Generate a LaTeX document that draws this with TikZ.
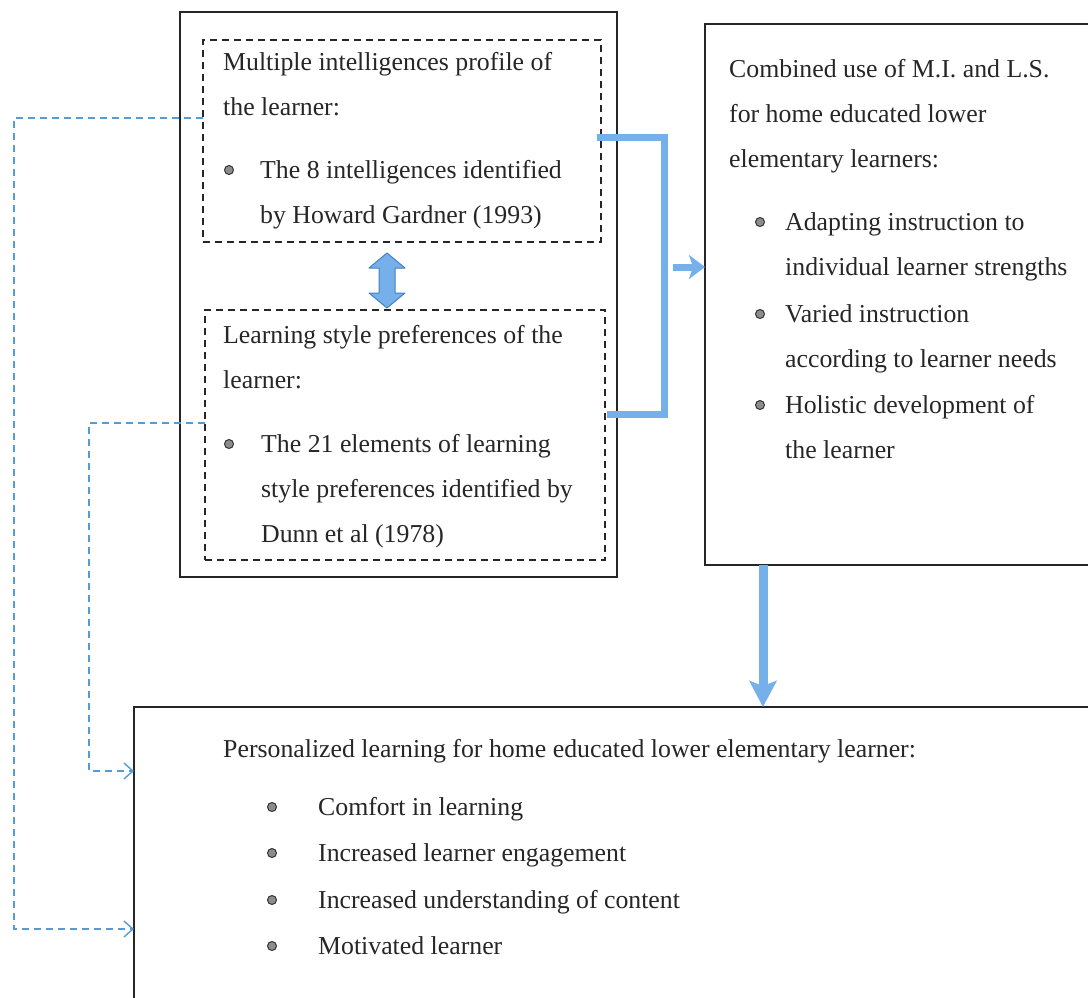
\documentclass[tikz,border=0pt]{standalone}
\usepackage{fontspec}
\setmainfont{Liberation Serif}
\usetikzlibrary{arrows.meta, positioning, calc}

\definecolor{flowblue}{RGB}{118,176,234}
\definecolor{linkblue}{RGB}{84,156,214}
\definecolor{edgeblue}{RGB}{68,128,196}

\begin{document}
\begin{tikzpicture}[x=1pt, y=-1pt,
        font=\fontsize{25.8}{45}\selectfont,
        every node/.style={align=left},
        frame/.style={
            rectangle, draw=black!85, line width=1.8pt,
            inner sep=0pt, outer sep=0pt, anchor=north west
        },
        dashframe/.style={
            frame, dash pattern=on 7pt off 5pt
        },
        % multi-line text: placed at the baseline of its last line
        txt/.style={anchor=base west, inner sep=0pt, text=black!85},
        bltdot/.style={fill=black!45, draw=black!80, line width=1pt},
        bracket/.style={draw=flowblue, line width=7pt},
        fatarrow/.style={draw=flowblue, line width=7pt,
            -{Stealth[length=16pt, width=24pt, inset=4pt]}},
        downarrow/.style={draw=flowblue, line width=9pt,
            -{Stealth[length=26pt, width=27pt, inset=5pt]}},
        dblarrow/.style={fill=flowblue, draw=edgeblue, line width=1pt, line join=round},
        linkdash/.style={draw=linkblue, line width=1.4pt, dash pattern=on 7pt off 5pt,
            -{Straight Barb[length=9pt, width=16pt, line width=1.4pt]}}
    ]
    \useasboundingbox (0,0) rectangle (1088,997);
    \clip (0,0) rectangle (1088,997);

    % boxes
    \node[frame, minimum width=437pt, minimum height=565pt] (inputs) at (180,12) {};
    \node[dashframe, minimum width=398pt, minimum height=202pt] (mi) at (203,40) {};
    \node[dashframe, minimum width=400pt, minimum height=250pt] (ls) at (205,310) {};
    \node[frame, minimum width=400pt, minimum height=541pt] (comb) at (705,24) {};
    \node[frame, minimum width=970pt, minimum height=300pt] (pers) at (134,707) {};

    % texts
    \node[txt] (mihead) at (223,115) {Multiple intelligences profile of\\the learner:};
    \node[txt] (miitem) at (260,223) {The 8 intelligences identified\\by Howard Gardner (1993)};
    \node[txt] (lshead) at (223,388) {Learning style preferences of the\\learner:};
    \node[txt] (lsitem) at (261,542) {The 21 elements of learning\\style preferences identified by\\Dunn et al (1978)};
    \node[txt] (combhead) at (729,167) {Combined use of M.I. and L.S.\\for home educated lower\\elementary learners:};
    \node[txt] (comb1) at (785,275) {Adapting instruction to\\individual learner strengths};
    \node[txt] (comb2) at (785,367) {Varied instruction\\according to learner needs};
    \node[txt] (comb3) at (785,458) {Holistic development of\\the learner};
    \node[txt] (pershead) at (223,757) {Personalized learning for home educated lower elementary learner:};
    \node[txt] (pers1) at (318,815) {Comfort in learning};
    \node[txt] (pers2) at (318,861) {Increased learner engagement};
    \node[txt] (pers3) at (318,908) {Increased understanding of content};
    \node[txt] (pers4) at (318,954) {Motivated learner};

    % bullets
    \foreach \bx/\by in {229/170, 229/444, 760/222, 760/314, 760/405,
                         272/807, 272/853, 272/900, 272/946}
        \draw[bltdot] (\bx,\by) circle (4.5pt);

    % connectors
    \coordinate (brtop) at (664,137);
    \coordinate (brbot) at (664,414);
    \draw[bracket] ($(mi.east |- brtop)+(-4,0)$) -- (brtop) -- (brbot) -- ($(ls.east |- brbot)+(2,0)$);
    \coordinate (joint) at (673,267);
    \draw[fatarrow] (joint) -- (comb.west |- joint);
    \coordinate (downx) at (763,0);
    \draw[downarrow] (comb.south -| downx) -- (pers.north -| downx);
    \coordinate (mils) at (387,253);
    \draw[dblarrow] (mils) -- ++(18,15) -- ++(-10,0) -- ++(0,25) -- ++(10,0)
        -- ++(-18,15) -- ++(-18,-15) -- ++(10,0) -- ++(0,-25) -- ++(-10,0) -- cycle;
    \coordinate (outerturn) at (14,118);
    \coordinate (outerfoot) at (14,929);
    \draw[linkdash] (mi.west |- outerturn) -- (outerturn) -- (outerfoot) -- (pers.west |- outerfoot);
    \coordinate (innerturn) at (89,423);
    \coordinate (innerfoot) at (89,771);
    \draw[linkdash] (ls.west |- innerturn) -- (innerturn) -- (innerfoot) -- (pers.west |- innerfoot);
\end{tikzpicture}
\end{document}
